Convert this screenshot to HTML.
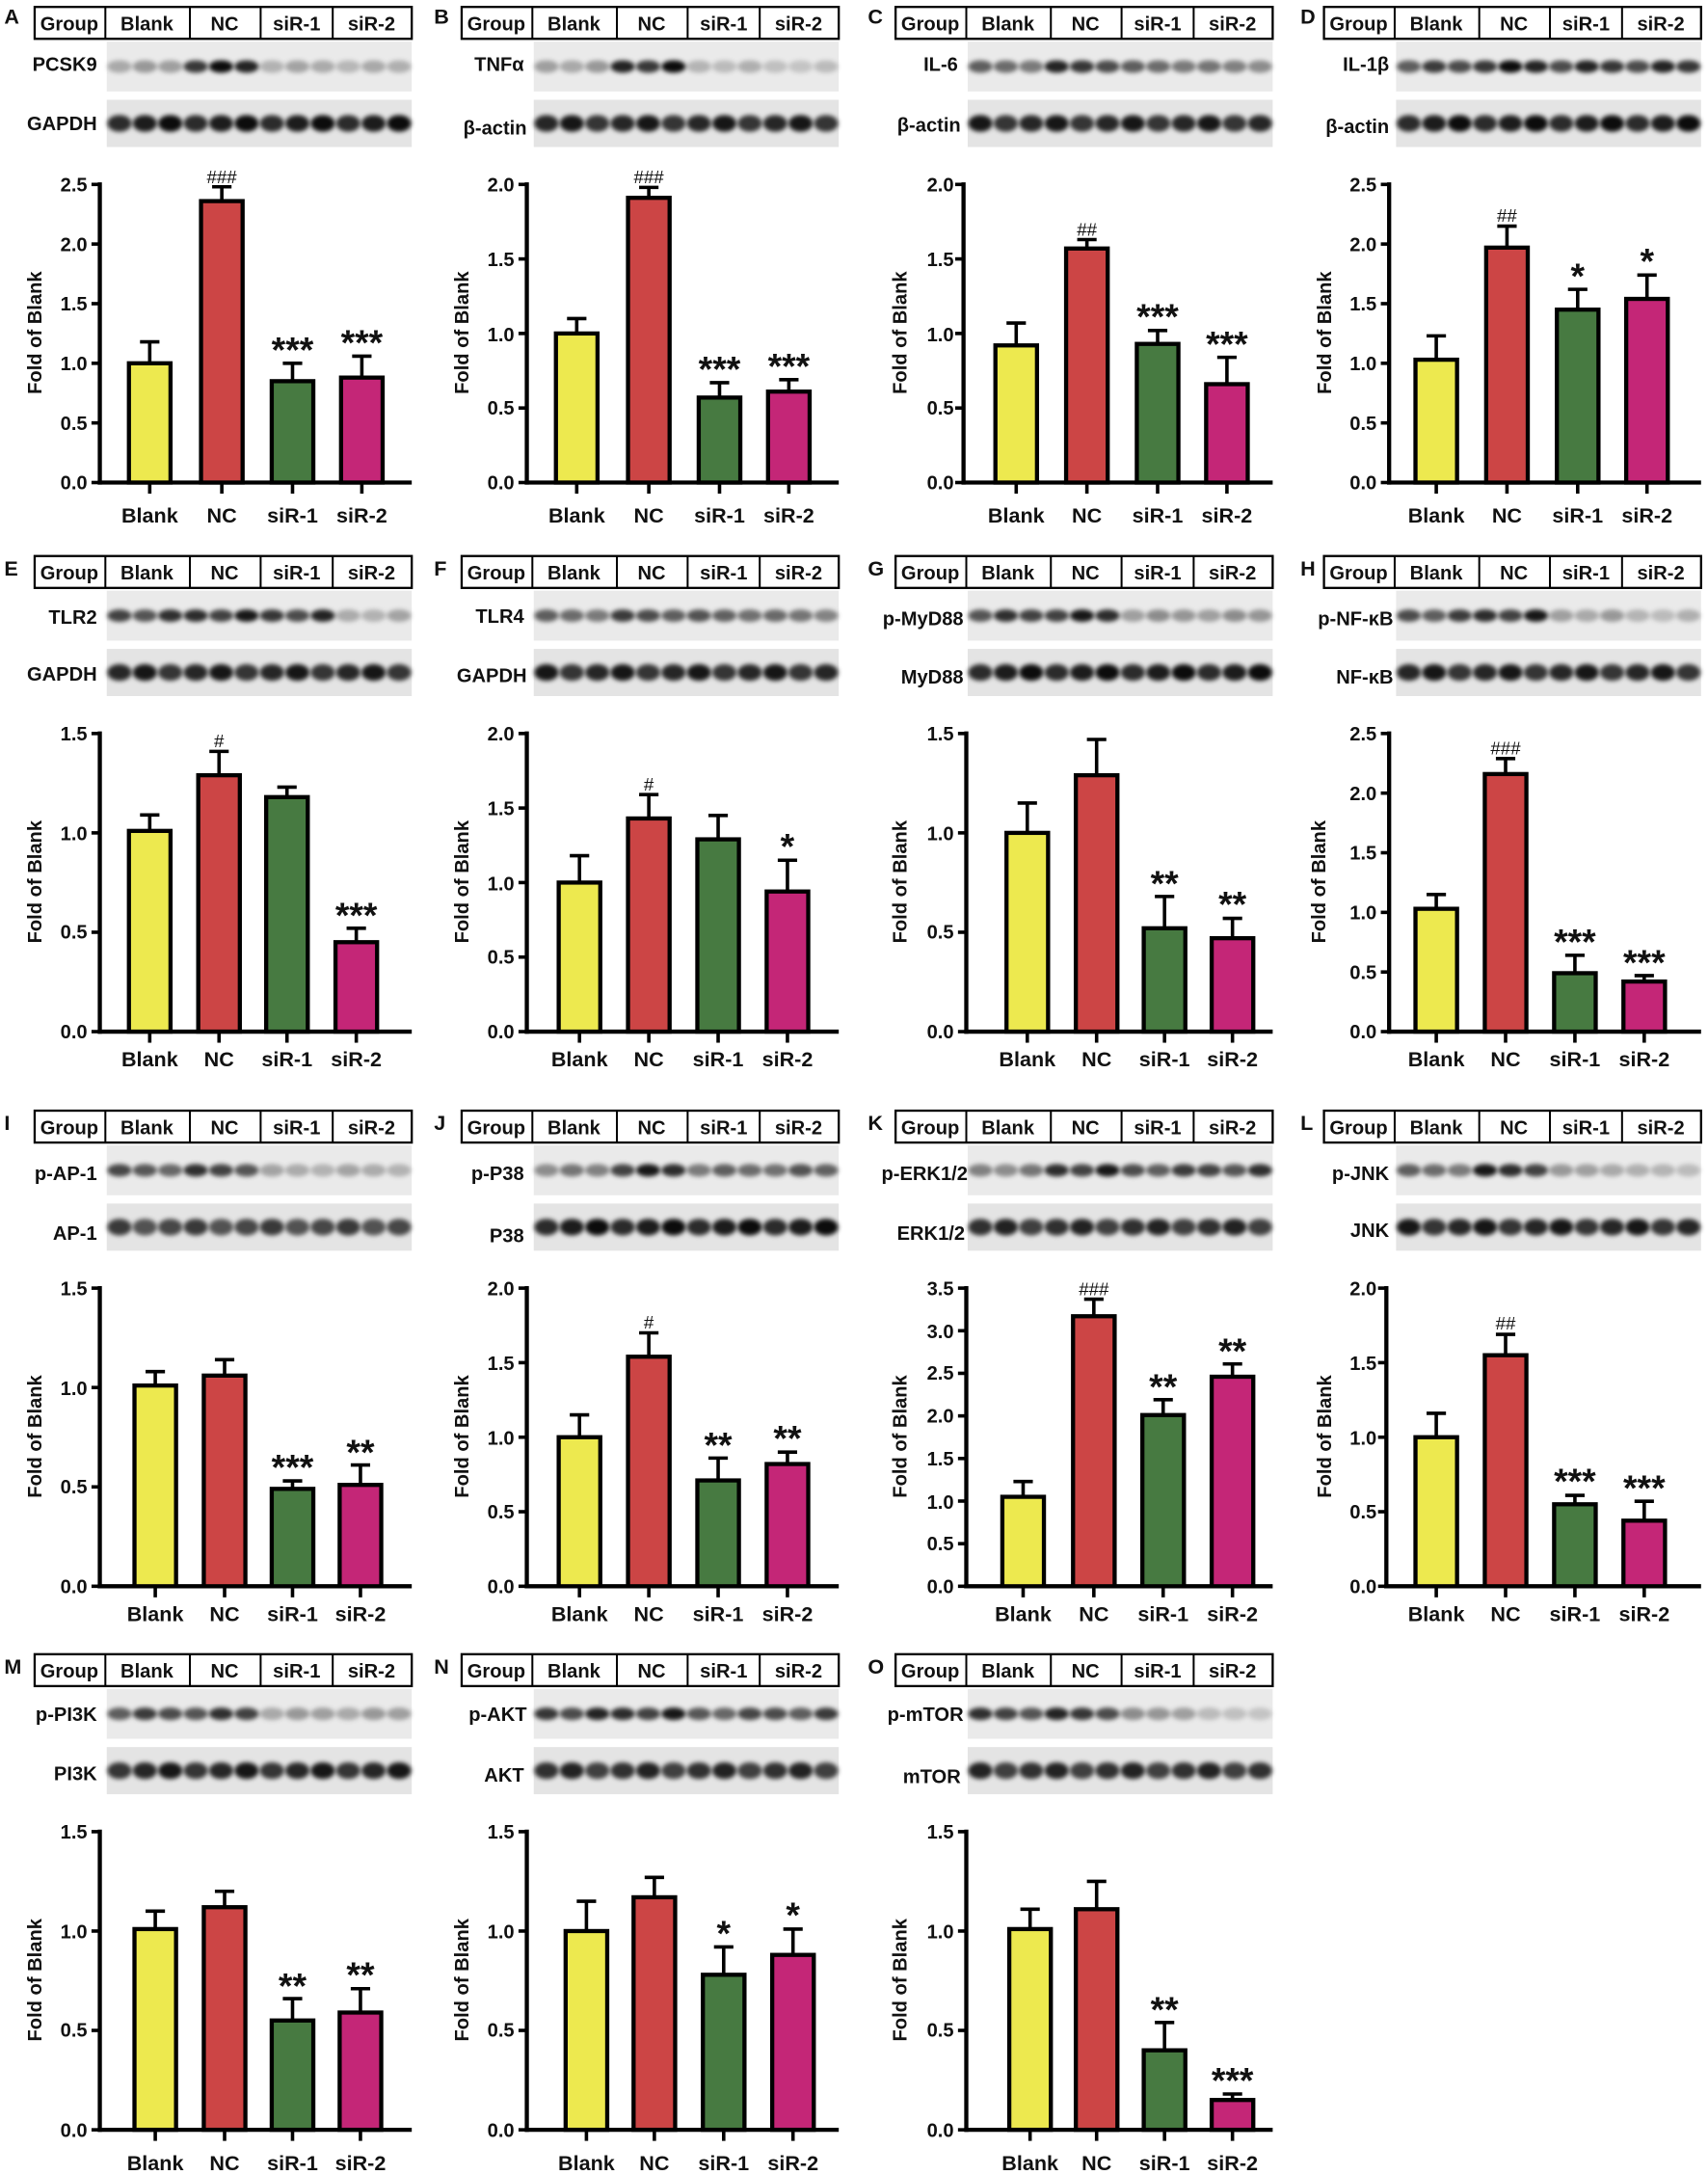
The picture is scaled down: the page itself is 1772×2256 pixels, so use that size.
<!DOCTYPE html>
<html><head><meta charset="utf-8">
<style>
html,body{margin:0;padding:0;background:#fff}
svg{display:block}
text{font-family:"Liberation Sans",Arial,sans-serif;font-weight:bold;fill:#111}
.L{font-size:15px}
.h{font-size:14px;text-anchor:middle}
.bl{font-size:14px;text-anchor:end}
.yl{font-size:14px;text-anchor:middle}
.xl{font-size:15px;text-anchor:middle}
.t{font-size:14px;text-anchor:end}
.hs{font-size:13px;text-anchor:middle;font-weight:normal}
.st{font-size:26px;text-anchor:middle;transform:translateY(-7px)}
</style></head><body>
<svg id="s" width="1772" height="2256" viewBox="0 0 1232 1568.6" preserveAspectRatio="none" xmlns="http://www.w3.org/2000/svg">
<defs><filter id="bf" x="-20%" y="-50%" width="140%" height="200%"><feGaussianBlur stdDeviation="1.6"/></filter></defs>
<g id="shapes"></g>

<!-- A -->
<g transform="translate(0,5)">
<text class="L" x="3" y="12">A</text>
<text class="h" x="50" y="17">Group</text><text class="h" x="106" y="17">Blank</text><text class="h" x="162" y="17">NC</text><text class="h" x="214" y="17">siR-1</text><text class="h" x="268" y="17">siR-2</text>
<text class="bl" x="70" y="46">PCSK9</text><text class="bl" x="70" y="89">GAPDH</text>
<text class="yl" transform="translate(30,235) rotate(-90)">Fold of Blank</text>
<text class="xl" x="108" y="372">Blank</text><text class="xl" x="160" y="372">NC</text><text class="xl" x="211" y="372">siR-1</text><text class="xl" x="261" y="372">siR-2</text>
<text class="t" x="63" y="348">0.0</text><text class="t" x="63" y="305">0.5</text><text class="t" x="63" y="262">1.0</text><text class="t" x="63" y="219">1.5</text><text class="t" x="63" y="176">2.0</text><text class="t" x="63" y="133">2.5</text>
<text class="hs" x="160" y="127">###</text><text class="st" x="211" y="263">***</text><text class="st" x="261" y="258">***</text>
</g>
<!-- B -->
<g transform="translate(308,5)">
<text class="L" x="5" y="12">B</text>
<text class="h" x="50" y="17">Group</text><text class="h" x="106" y="17">Blank</text><text class="h" x="162" y="17">NC</text><text class="h" x="214" y="17">siR-1</text><text class="h" x="268" y="17">siR-2</text>
<text class="bl" x="70" y="46">TNFα</text><text class="bl" x="72" y="92">β-actin</text>
<text class="yl" transform="translate(30,235) rotate(-90)">Fold of Blank</text>
<text class="xl" x="108" y="372">Blank</text><text class="xl" x="160" y="372">NC</text><text class="xl" x="211" y="372">siR-1</text><text class="xl" x="261" y="372">siR-2</text>
<text class="t" x="63" y="348">0.0</text><text class="t" x="63" y="294">0.5</text><text class="t" x="63" y="241">1.0</text><text class="t" x="63" y="187">1.5</text><text class="t" x="63" y="133">2.0</text>
<text class="hs" x="160" y="127">###</text><text class="st" x="211" y="277">***</text><text class="st" x="261" y="275">***</text>
</g>
<!-- C -->
<g transform="translate(621,5)">
<text class="L" x="5" y="12">C</text>
<text class="h" x="50" y="17">Group</text><text class="h" x="106" y="17">Blank</text><text class="h" x="162" y="17">NC</text><text class="h" x="214" y="17">siR-1</text><text class="h" x="268" y="17">siR-2</text>
<text class="bl" x="70" y="46">IL-6</text><text class="bl" x="72" y="90">β-actin</text>
<text class="yl" transform="translate(33,235) rotate(-90)">Fold of Blank</text>
<text class="xl" x="112" y="372">Blank</text><text class="xl" x="163" y="372">NC</text><text class="xl" x="214" y="372">siR-1</text><text class="xl" x="264" y="372">siR-2</text>
<text class="t" x="67" y="348">0.0</text><text class="t" x="67" y="294">0.5</text><text class="t" x="67" y="241">1.0</text><text class="t" x="67" y="187">1.5</text><text class="t" x="67" y="133">2.0</text>
<text class="hs" x="163" y="165">##</text><text class="st" x="214" y="239">***</text><text class="st" x="264" y="259">***</text>
</g>
<!-- D -->
<g transform="translate(930,5)">
<text class="L" x="8" y="12">D</text>
<text class="h" x="50" y="17">Group</text><text class="h" x="106" y="17">Blank</text><text class="h" x="162" y="17">NC</text><text class="h" x="214" y="17">siR-1</text><text class="h" x="268" y="17">siR-2</text>
<text class="bl" x="72" y="46">IL-1β</text><text class="bl" x="72" y="91">β-actin</text>
<text class="yl" transform="translate(30,235) rotate(-90)">Fold of Blank</text>
<text class="xl" x="106" y="372">Blank</text><text class="xl" x="157" y="372">NC</text><text class="xl" x="208" y="372">siR-1</text><text class="xl" x="258" y="372">siR-2</text>
<text class="t" x="63" y="348">0.0</text><text class="t" x="63" y="305">0.5</text><text class="t" x="63" y="262">1.0</text><text class="t" x="63" y="219">1.5</text><text class="t" x="63" y="176">2.0</text><text class="t" x="63" y="133">2.5</text>
<text class="hs" x="157" y="155">##</text><text class="st" x="208" y="210">*</text><text class="st" x="258" y="199">*</text>
</g>

<!-- E -->
<g transform="translate(0,401)">
<text class="L" x="3" y="14">E</text>
<text class="h" x="50" y="17">Group</text><text class="h" x="106" y="17">Blank</text><text class="h" x="162" y="17">NC</text><text class="h" x="214" y="17">siR-1</text><text class="h" x="268" y="17">siR-2</text>
<text class="bl" x="70" y="49">TLR2</text><text class="bl" x="70" y="90">GAPDH</text>
<text class="yl" transform="translate(30,235) rotate(-90)">Fold of Blank</text>
<text class="xl" x="108" y="368">Blank</text><text class="xl" x="158" y="368">NC</text><text class="xl" x="207" y="368">siR-1</text><text class="xl" x="257" y="368">siR-2</text>
<text class="t" x="63" y="348">0.0</text><text class="t" x="63" y="276">0.5</text><text class="t" x="63" y="205">1.0</text><text class="t" x="63" y="133">1.5</text>
<text class="hs" x="158" y="138">#</text><text class="st" x="257" y="275">***</text>
</g>
<!-- F -->
<g transform="translate(308,401)">
<text class="L" x="5" y="14">F</text>
<text class="h" x="50" y="17">Group</text><text class="h" x="106" y="17">Blank</text><text class="h" x="162" y="17">NC</text><text class="h" x="214" y="17">siR-1</text><text class="h" x="268" y="17">siR-2</text>
<text class="bl" x="70" y="48">TLR4</text><text class="bl" x="72" y="91">GAPDH</text>
<text class="yl" transform="translate(30,235) rotate(-90)">Fold of Blank</text>
<text class="xl" x="110" y="368">Blank</text><text class="xl" x="160" y="368">NC</text><text class="xl" x="210" y="368">siR-1</text><text class="xl" x="260" y="368">siR-2</text>
<text class="t" x="63" y="348">0.0</text><text class="t" x="63" y="294">0.5</text><text class="t" x="63" y="241">1.0</text><text class="t" x="63" y="187">1.5</text><text class="t" x="63" y="133">2.0</text>
<text class="hs" x="160" y="169">#</text><text class="st" x="260" y="225">*</text>
</g>
<!-- G -->
<g transform="translate(621,401)">
<text class="L" x="5" y="14">G</text>
<text class="h" x="50" y="17">Group</text><text class="h" x="106" y="17">Blank</text><text class="h" x="162" y="17">NC</text><text class="h" x="214" y="17">siR-1</text><text class="h" x="268" y="17">siR-2</text>
<text class="bl" x="74" y="50">p-MyD88</text><text class="bl" x="74" y="92">MyD88</text>
<text class="yl" transform="translate(33,235) rotate(-90)">Fold of Blank</text>
<text class="xl" x="120" y="368">Blank</text><text class="xl" x="170" y="368">NC</text><text class="xl" x="219" y="368">siR-1</text><text class="xl" x="268" y="368">siR-2</text>
<text class="t" x="67" y="348">0.0</text><text class="t" x="67" y="276">0.5</text><text class="t" x="67" y="205">1.0</text><text class="t" x="67" y="133">1.5</text>
<text class="st" x="219" y="252">**</text><text class="st" x="268" y="267">**</text>
</g>
<!-- H -->
<g transform="translate(930,401)">
<text class="L" x="8" y="14">H</text>
<text class="h" x="50" y="17">Group</text><text class="h" x="106" y="17">Blank</text><text class="h" x="162" y="17">NC</text><text class="h" x="214" y="17">siR-1</text><text class="h" x="268" y="17">siR-2</text>
<text class="bl" x="75" y="50">p-NF-κB</text><text class="bl" x="75" y="92">NF-κB</text>
<text class="yl" transform="translate(26,235) rotate(-90)">Fold of Blank</text>
<text class="xl" x="106" y="368">Blank</text><text class="xl" x="156" y="368">NC</text><text class="xl" x="206" y="368">siR-1</text><text class="xl" x="256" y="368">siR-2</text>
<text class="t" x="63" y="348">0.0</text><text class="t" x="63" y="305">0.5</text><text class="t" x="63" y="262">1.0</text><text class="t" x="63" y="219">1.5</text><text class="t" x="63" y="176">2.0</text><text class="t" x="63" y="133">2.5</text>
<text class="hs" x="156" y="143">###</text><text class="st" x="206" y="294">***</text><text class="st" x="256" y="309">***</text>
</g>

<!-- I -->
<g transform="translate(0,801)">
<text class="L" x="3" y="14">I</text>
<text class="h" x="50" y="17">Group</text><text class="h" x="106" y="17">Blank</text><text class="h" x="162" y="17">NC</text><text class="h" x="214" y="17">siR-1</text><text class="h" x="268" y="17">siR-2</text>
<text class="bl" x="70" y="50">p-AP-1</text><text class="bl" x="70" y="93">AP-1</text>
<text class="yl" transform="translate(30,235) rotate(-90)">Fold of Blank</text>
<text class="xl" x="112" y="368">Blank</text><text class="xl" x="162" y="368">NC</text><text class="xl" x="211" y="368">siR-1</text><text class="xl" x="260" y="368">siR-2</text>
<text class="t" x="63" y="348">0.0</text><text class="t" x="63" y="276">0.5</text><text class="t" x="63" y="205">1.0</text><text class="t" x="63" y="133">1.5</text>
<text class="st" x="211" y="273">***</text><text class="st" x="260" y="262">**</text>
</g>
<!-- J -->
<g transform="translate(308,801)">
<text class="L" x="5" y="14">J</text>
<text class="h" x="50" y="17">Group</text><text class="h" x="106" y="17">Blank</text><text class="h" x="162" y="17">NC</text><text class="h" x="214" y="17">siR-1</text><text class="h" x="268" y="17">siR-2</text>
<text class="bl" x="70" y="50">p-P38</text><text class="bl" x="70" y="95">P38</text>
<text class="yl" transform="translate(30,235) rotate(-90)">Fold of Blank</text>
<text class="xl" x="110" y="368">Blank</text><text class="xl" x="160" y="368">NC</text><text class="xl" x="210" y="368">siR-1</text><text class="xl" x="260" y="368">siR-2</text>
<text class="t" x="63" y="348">0.0</text><text class="t" x="63" y="294">0.5</text><text class="t" x="63" y="241">1.0</text><text class="t" x="63" y="187">1.5</text><text class="t" x="63" y="133">2.0</text>
<text class="hs" x="160" y="157">#</text><text class="st" x="210" y="257">**</text><text class="st" x="260" y="252">**</text>
</g>
<!-- K -->
<g transform="translate(621,801)">
<text class="L" x="5" y="14">K</text>
<text class="h" x="50" y="17">Group</text><text class="h" x="106" y="17">Blank</text><text class="h" x="162" y="17">NC</text><text class="h" x="214" y="17">siR-1</text><text class="h" x="268" y="17">siR-2</text>
<text class="bl" x="77" y="50">p-ERK1/2</text><text class="bl" x="75" y="93">ERK1/2</text>
<text class="yl" transform="translate(33,235) rotate(-90)">Fold of Blank</text>
<text class="xl" x="117" y="368">Blank</text><text class="xl" x="168" y="368">NC</text><text class="xl" x="218" y="368">siR-1</text><text class="xl" x="268" y="368">siR-2</text>
<text class="t" x="67" y="348">0.0</text><text class="t" x="67" y="317">0.5</text><text class="t" x="67" y="287">1.0</text><text class="t" x="67" y="256">1.5</text><text class="t" x="67" y="225">2.0</text><text class="t" x="67" y="194">2.5</text><text class="t" x="67" y="164">3.0</text><text class="t" x="67" y="133">3.5</text>
<text class="hs" x="168" y="133">###</text><text class="st" x="218" y="215">**</text><text class="st" x="268" y="189">**</text>
</g>
<!-- L -->
<g transform="translate(930,801)">
<text class="L" x="8" y="14">L</text>
<text class="h" x="50" y="17">Group</text><text class="h" x="106" y="17">Blank</text><text class="h" x="162" y="17">NC</text><text class="h" x="214" y="17">siR-1</text><text class="h" x="268" y="17">siR-2</text>
<text class="bl" x="72" y="50">p-JNK</text><text class="bl" x="72" y="91">JNK</text>
<text class="yl" transform="translate(30,235) rotate(-90)">Fold of Blank</text>
<text class="xl" x="106" y="368">Blank</text><text class="xl" x="156" y="368">NC</text><text class="xl" x="206" y="368">siR-1</text><text class="xl" x="256" y="368">siR-2</text>
<text class="t" x="63" y="348">0.0</text><text class="t" x="63" y="294">0.5</text><text class="t" x="63" y="241">1.0</text><text class="t" x="63" y="187">1.5</text><text class="t" x="63" y="133">2.0</text>
<text class="hs" x="156" y="158">##</text><text class="st" x="206" y="283">***</text><text class="st" x="256" y="288">***</text>
</g>

<!-- M -->
<g transform="translate(0,1193)">
<text class="L" x="3" y="14">M</text>
<text class="h" x="50" y="17">Group</text><text class="h" x="106" y="17">Blank</text><text class="h" x="162" y="17">NC</text><text class="h" x="214" y="17">siR-1</text><text class="h" x="268" y="17">siR-2</text>
<text class="bl" x="70" y="48">p-PI3K</text><text class="bl" x="70" y="91">PI3K</text>
<text class="yl" transform="translate(30,235) rotate(-90)">Fold of Blank</text>
<text class="xl" x="112" y="372">Blank</text><text class="xl" x="162" y="372">NC</text><text class="xl" x="211" y="372">siR-1</text><text class="xl" x="260" y="372">siR-2</text>
<text class="t" x="63" y="348">0.0</text><text class="t" x="63" y="276">0.5</text><text class="t" x="63" y="205">1.0</text><text class="t" x="63" y="133">1.5</text>
<text class="st" x="211" y="255">**</text><text class="st" x="260" y="247">**</text>
</g>
<!-- N -->
<g transform="translate(308,1193)">
<text class="L" x="5" y="14">N</text>
<text class="h" x="50" y="17">Group</text><text class="h" x="106" y="17">Blank</text><text class="h" x="162" y="17">NC</text><text class="h" x="214" y="17">siR-1</text><text class="h" x="268" y="17">siR-2</text>
<text class="bl" x="72" y="48">p-AKT</text><text class="bl" x="70" y="92">AKT</text>
<text class="yl" transform="translate(30,235) rotate(-90)">Fold of Blank</text>
<text class="xl" x="115" y="372">Blank</text><text class="xl" x="164" y="372">NC</text><text class="xl" x="214" y="372">siR-1</text><text class="xl" x="264" y="372">siR-2</text>
<text class="t" x="63" y="348">0.0</text><text class="t" x="63" y="276">0.5</text><text class="t" x="63" y="205">1.0</text><text class="t" x="63" y="133">1.5</text>
<text class="st" x="214" y="217">*</text><text class="st" x="264" y="204">*</text>
</g>
<!-- O -->
<g transform="translate(621,1193)">
<text class="L" x="5" y="14">O</text>
<text class="h" x="50" y="17">Group</text><text class="h" x="106" y="17">Blank</text><text class="h" x="162" y="17">NC</text><text class="h" x="214" y="17">siR-1</text><text class="h" x="268" y="17">siR-2</text>
<text class="bl" x="74" y="48">p-mTOR</text><text class="bl" x="72" y="93">mTOR</text>
<text class="yl" transform="translate(33,235) rotate(-90)">Fold of Blank</text>
<text class="xl" x="122" y="372">Blank</text><text class="xl" x="170" y="372">NC</text><text class="xl" x="219" y="372">siR-1</text><text class="xl" x="268" y="372">siR-2</text>
<text class="t" x="67" y="348">0.0</text><text class="t" x="67" y="276">0.5</text><text class="t" x="67" y="205">1.0</text><text class="t" x="67" y="133">1.5</text>
<text class="st" x="219" y="272">**</text><text class="st" x="268" y="323">***</text>
</g>
</svg>
<script>
(function(){
var NS="http://www.w3.org/2000/svg",root=document.getElementById("shapes");
function el(t,a,p){var e=document.createElementNS(NS,t);for(var k in a)e.setAttribute(k,a[k]);(p||root).appendChild(e);return e;}
var cols=[0,308,621,930],rows=[5,401,801,1193];
var C=["#ede94f","#cc4545","#477a41","#c42677"];
var P=[
{c:0,r:0,m:2.5,v:[1,2.36,.85,.88],e:[.18,.12,.15,.18],b:[.35,.95,.3,.28],b2:.95,ax:72,cx:[108,160,211,261]},
{c:1,r:0,m:2,v:[1,1.91,.57,.61],e:[.1,.07,.1,.08],b:[.35,.95,.25,.2],b2:.9,ax:72,cx:[108,160,211,261]},
{c:2,r:0,m:2,v:[.92,1.57,.93,.66],e:[.15,.06,.09,.18],b:[.6,.85,.6,.5],b2:.9,ax:74,cx:[112,163,214,264]},
{c:3,r:0,m:2.5,v:[1.03,1.97,1.45,1.54],e:[.2,.18,.17,.2],b:[.75,.95,.85,.85],b2:.95,ax:72,cx:[106,157,208,258]},
{c:0,r:1,m:1.5,v:[1.01,1.29,1.18,.45],e:[.08,.12,.05,.07],b:[.8,.9,.85,.3],b2:.9,ax:72,cx:[108,158,207,257]},
{c:1,r:1,m:2,v:[1,1.43,1.29,.94],e:[.18,.16,.16,.21],b:[.6,.75,.65,.55],b2:.9,ax:72,cx:[110,160,210,260]},
{c:2,r:1,m:1.5,v:[1,1.29,.52,.47],e:[.15,.18,.16,.1],b:[.8,.9,.4,.4],b2:.95,ax:76,cx:[120,170,219,268]},
{c:3,r:1,m:2.5,v:[1.03,2.16,.49,.42],e:[.12,.13,.15,.05],b:[.75,.9,.35,.25],b2:.9,ax:72,cx:[106,156,206,256]},
{c:0,r:2,m:1.5,v:[1.01,1.06,.49,.51],e:[.07,.08,.04,.1],b:[.7,.8,.3,.3],b2:.75,ax:72,cx:[112,162,211,260]},
{c:1,r:2,m:2,v:[1,1.54,.71,.82],e:[.15,.16,.15,.08],b:[.5,.9,.6,.65],b2:.95,ax:72,cx:[110,160,210,260]},
{c:2,r:2,m:3.5,v:[1.05,3.17,2.01,2.46],e:[.18,.2,.18,.15],b:[.5,.9,.75,.8],b2:.85,ax:76,cx:[117,168,218,268]},
{c:3,r:2,m:2,v:[1,1.55,.55,.44],e:[.16,.14,.06,.13],b:[.6,.9,.35,.25],b2:.9,ax:70,cx:[106,156,206,256]},
{c:0,r:3,m:1.5,v:[1.01,1.12,.55,.59],e:[.09,.08,.11,.12],b:[.75,.8,.35,.35],b2:.9,ax:72,cx:[112,162,211,260]},
{c:1,r:3,m:1.5,v:[1,1.17,.78,.88],e:[.15,.1,.14,.13],b:[.85,.9,.7,.75],b2:.85,ax:72,cx:[115,164,214,264]},
{c:2,r:3,m:1.5,v:[1.01,1.11,.4,.15],e:[.1,.14,.14,.03],b:[.8,.85,.4,.2],b2:.85,ax:76,cx:[122,170,219,268]}
];
var B0=343,H=215;
P.forEach(function(p,pi){
  var g=el("g",{transform:"translate("+cols[p.c]+","+rows[p.r]+")"});
  el("rect",{x:25,y:0,width:272,height:23,fill:"#fff",stroke:"#000","stroke-width":1.6},g);
  [76,137,188,240].forEach(function(x){el("line",{x1:x,y1:0,x2:x,y2:23,stroke:"#000","stroke-width":1.4},g);});
  var bx=77,bw=220,lw=bw/12;
  [[25,36,null],[67,34,p.b2]].forEach(function(bl,bi){
    el("rect",{x:bx,y:bl[0],width:bw,height:bl[1],fill:bi?"#e4e4e4":"#eaeaea"},g);
    for(var i=0;i<12;i++){
      var grp=Math.floor(i/3);
      var a=bi?bl[2]*(0.85+0.15*((i*7+pi)%3)/2):p.b[grp]*(0.8+0.2*((i*5+pi)%3)/2);
      el("ellipse",{cx:bx+lw*(i+.5),cy:bl[0]+bl[1]/2,rx:lw*0.48,ry:bi?6:4.5,fill:"#000","fill-opacity":a.toFixed(2),filter:"url(#bf)"},g);
    }
  });
  var ax=p.ax,xr=297;
  el("line",{x1:ax,y1:B0-H-1.5,x2:ax,y2:B0+1.5,stroke:"#000","stroke-width":3},g);
  el("line",{x1:ax-1.5,y1:B0,x2:xr,y2:B0,stroke:"#000","stroke-width":3},g);
  for(var t=0;t<=p.m+1e-6;t+=0.5){var y=B0-t/p.m*H;el("line",{x1:ax-6,y1:y,x2:ax,y2:y,stroke:"#000","stroke-width":2.5},g);}
  p.cx.forEach(function(cx,i){
    el("line",{x1:cx,y1:B0,x2:cx,y2:B0+8,stroke:"#000","stroke-width":2.5},g);
    var top=B0-p.v[i]/p.m*H, et=B0-(p.v[i]+p.e[i])/p.m*H;
    el("line",{x1:cx,y1:top,x2:cx,y2:et,stroke:"#000","stroke-width":2.5},g);
    el("line",{x1:cx-7,y1:et,x2:cx+7,y2:et,stroke:"#000","stroke-width":2.5},g);
    el("rect",{x:cx-15,y:top,width:30,height:B0-top,fill:C[i],stroke:"#000","stroke-width":3},g);
  });
});
})();
</script>
</body></html>
